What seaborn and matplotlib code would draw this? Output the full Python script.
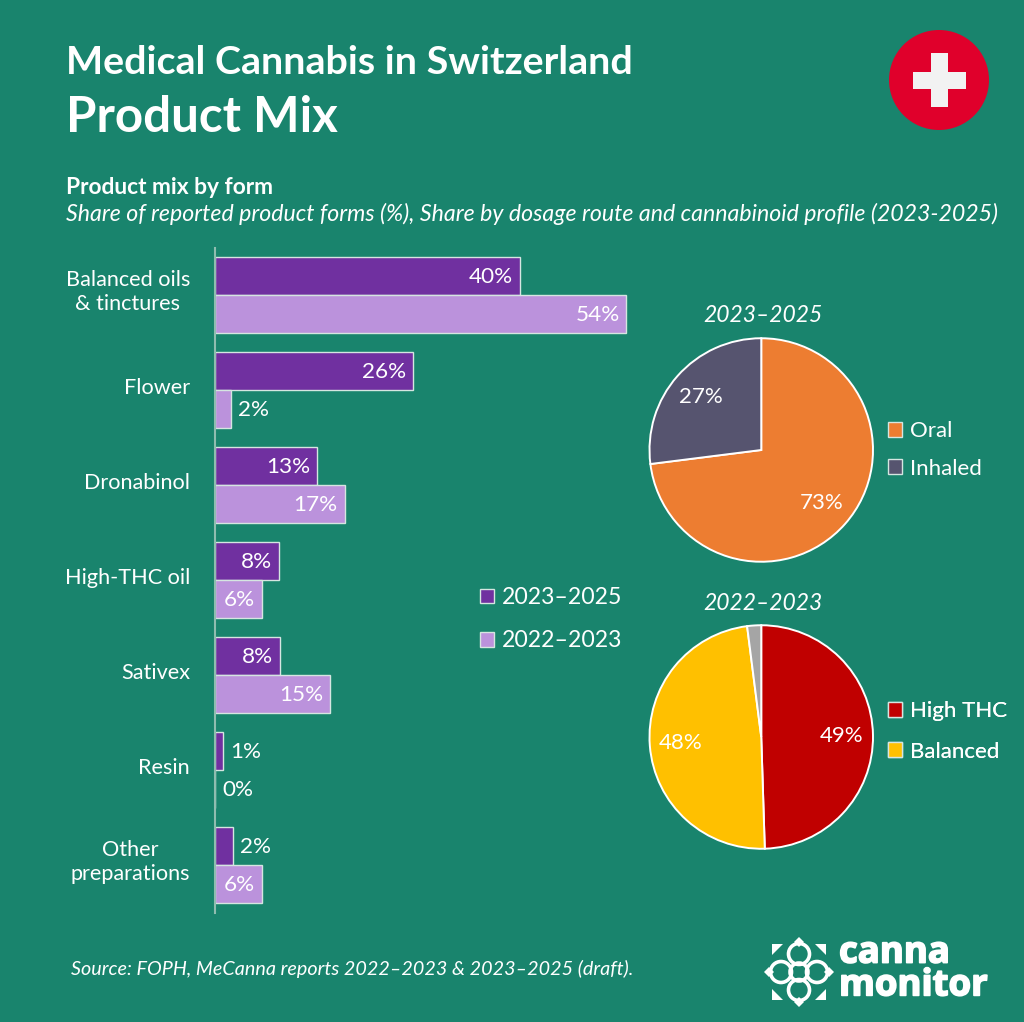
import seaborn as sns
import matplotlib.pyplot as plt
import matplotlib.patches as mpatches
import matplotlib.patheffects as pe
from matplotlib.transforms import ScaledTranslation
import pandas as pd

# Data
forms = ['Balanced oils\n& tinctures', 'Flower', 'Dronabinol', 'High-THC oil', 'Sativex', 'Resin', 'Other\npreparations']
share_2325 = [40, 26, 13.4, 8.4, 8.5, 1.05, 2.4]
share_2223 = [54, 2.1, 17, 6.2, 15.1, 0, 6.2]
labels_2325 = ['40%', '26%', '13%', '8%', '8%', '1%', '2%']
labels_2223 = ['54%', '2%', '17%', '6%', '15%', '0%', '6%']
periods = ['2023–2025', '2022–2023']

route_names = ['Oral', 'Inhaled']
route_values = [73, 27]
route_labels = ['73%', '27%']

profile_names = ['High THC', 'Balanced', 'Other']
profile_values = [49, 48, 2]
profile_labels = ['49%', '48%', '']

BG = '#19846D'
PURPLE = '#7030A0'
LILAC = '#BB92DC'
ROUTE_COLORS = ['#ED7D31', '#56546F']
PROFILE_COLORS = ['#C00000', '#FFC000', '#A5A5A5']
EDGE = '#D5E6E1'
W, H = 1024, 1022

sns.set_theme(style='white')
plt.rcParams['font.family'] = ['Lato', 'DejaVu Sans']

fig = plt.figure(figsize=(W / 100, H / 100), dpi=100, facecolor=BG)

def place(left, top, right, bottom):
    return fig.add_axes([left / W, 1 - bottom / H, (right - left) / W, (bottom - top) / H])

# Overlay in pixel coordinates for titles, flag, logo
over = place(0, 0, W, H)
over.set_xlim(0, W)
over.set_ylim(H, 0)
over.axis('off')
over.set_zorder(5)
over.patch.set_alpha(0)

over.text(66, 62, 'Medical Cannabis in Switzerland', color='white', fontsize=28.4, fontweight='bold', va='center')
over.text(66, 117, 'Product Mix', color='white', fontsize=35.5, fontweight='bold', va='center')
over.text(66, 187, 'Product mix by form', color='white', fontsize=16.4, fontweight='bold', va='center')
over.text(66, 214, 'Share of reported product forms (%), Share by dosage route and cannabinoid profile (2023-2025)',
          color='white', fontsize=16.65, style='italic', va='center')
over.text(71, 969, 'Source: FOPH, MeCanna reports 2022–2023 & 2023–2025 (draft).', color='white', fontsize=14.2,
          style='italic', va='center')

# Swiss flag badge
over.add_patch(mpatches.Circle((939, 80), 50, color='#E0002B', lw=0))
over.add_patch(mpatches.Rectangle((913, 72), 53, 17, color='#F2F2F2', lw=0))
over.add_patch(mpatches.Rectangle((931, 53), 17, 54, color='#F2F2F2', lw=0))

# Logo
cx, cy = 799, 972
for dx, dy in [(0, -18), (0, 18), (-18, 0), (18, 0)]:
    over.add_patch(mpatches.Circle((cx + dx, cy + dy), 10.5, fc='none', ec='white', lw=2.6))
over.add_patch(mpatches.Circle((cx, cy), 9, fc='none', ec='white', lw=2.6))
for dx, dy in [(0, -30), (0, 30), (-30, 0), (30, 0)]:
    over.add_patch(mpatches.RegularPolygon((cx + dx, cy + dy), 4, radius=5, color='white', lw=0))
for sx in (-1, 1):
    for sy in (-1, 1):
        over.add_patch(mpatches.Polygon([(cx + sx * 27, cy + sy * 28), (cx + sx * 16, cy + sy * 28),
                                         (cx + sx * 27, cy + sy * 17)], color='white', lw=0))
over.text(839, 969, 'canna\nmonitor', color='white', fontsize=26.3, fontweight='bold', family='Open Sans', va='center',
          linespacing=0.82, path_effects=[pe.withStroke(linewidth=1.2, foreground='white')])

# Bars
bars = pd.DataFrame({
    'form': forms * 2,
    'share': share_2325 + share_2223,
    'period': [periods[0]] * len(forms) + [periods[1]] * len(forms),
})
ax = place(215, 247.5, 655, 912.5)
ax.patch.set_alpha(0)
sns.barplot(data=bars, y='form', x='share', hue='period', palette=[PURPLE, LILAC], width=0.8, gap=0,
            edgecolor=EDGE, linewidth=1, saturation=1, legend=False, ax=ax)
ax.set_xlim(0, 440 / 7.62)
ax.set_ylim(6.5, -0.5)
ax.set_xlabel('')
ax.set_ylabel('')
ax.xaxis.set_visible(False)
sns.despine(ax=ax, left=False, bottom=True)
ax.spines['left'].set_color('#8FBDB0')
ax.spines['left'].set_linewidth(1.5)
ax.set_yticks(range(len(forms)))
ax.set_yticklabels(forms, color='white', fontsize=15.6, ha='right', multialignment='center', linespacing=1.25)
ax.tick_params(axis='y', length=0, pad=18)
for t in ax.get_yticklabels():
    shift = 7.5 if '\n' in t.get_text() else 4.5
    t.set_transform(t.get_transform() + ScaledTranslation(0, shift / 100, fig.dpi_scale_trans))

for cont, texts in zip(ax.containers, [labels_2325, labels_2223]):
    for bar, txt in zip(cont, texts):
        val = bar.get_width()
        y = bar.get_y() + bar.get_height() / 2
        inside = val >= 5
        ax.annotate(txt, (val, y), xytext=(-5 if inside else 5, -1), textcoords='offset points', color='white',
                    fontsize=16.2, va='center', ha='right' if inside else 'left')

# Bar legend
handles = [mpatches.Patch(fc=c, ec=EDGE, lw=1, label=p) for c, p in zip([PURPLE, LILAC], periods)]
bar_leg = over.legend(handles=handles, loc='upper left', bbox_to_anchor=(480, 587), bbox_transform=over.transData,
                      frameon=False, fontsize=16.6, labelcolor='white', handlelength=0.6, handleheight=0.6,
                      handletextpad=0.35, labelspacing=0.97, borderpad=0, borderaxespad=0)
over.add_artist(bar_leg)

# Pies
def pie_panel(top, values, names, texts, colors, title, legend_top, spacing):
    axp = place(649.5, top, 873, top + 224)
    wedges, lab = axp.pie(values, labels=texts, colors=colors, startangle=90, counterclock=False, labeldistance=0.72,
                          wedgeprops={'edgecolor': 'white', 'linewidth': 1.4, 'clip_on': False},
                          textprops={'color': 'white', 'fontsize': 16})
    for t in lab:
        t.set_ha('center')
        t.set_va('center')
    axp.set_xlim(-1, 1)
    axp.set_ylim(-1, 1)
    over.text(763, top - 22, title, color='white', fontsize=16.5, style='italic', ha='center', va='center')
    leg = over.legend(handles=[mpatches.Patch(fc=c, ec=EDGE, lw=1, label=n) for c, n in zip(colors, names[:2])],
                      loc='upper left', bbox_to_anchor=(888, legend_top), bbox_transform=over.transData, frameon=False,
                      fontsize=16, labelcolor='white', handlelength=0.65, handleheight=0.65, handletextpad=0.35,
                      labelspacing=spacing, borderpad=0, borderaxespad=0)
    over.add_artist(leg)

pie_panel(338, route_values, route_names, route_labels, ROUTE_COLORS, periods[0], 421, 0.79)
pie_panel(625, profile_values, profile_names, profile_labels, PROFILE_COLORS, periods[1], 701, 0.93)

fig.savefig('out.png', dpi=100, facecolor=BG)
